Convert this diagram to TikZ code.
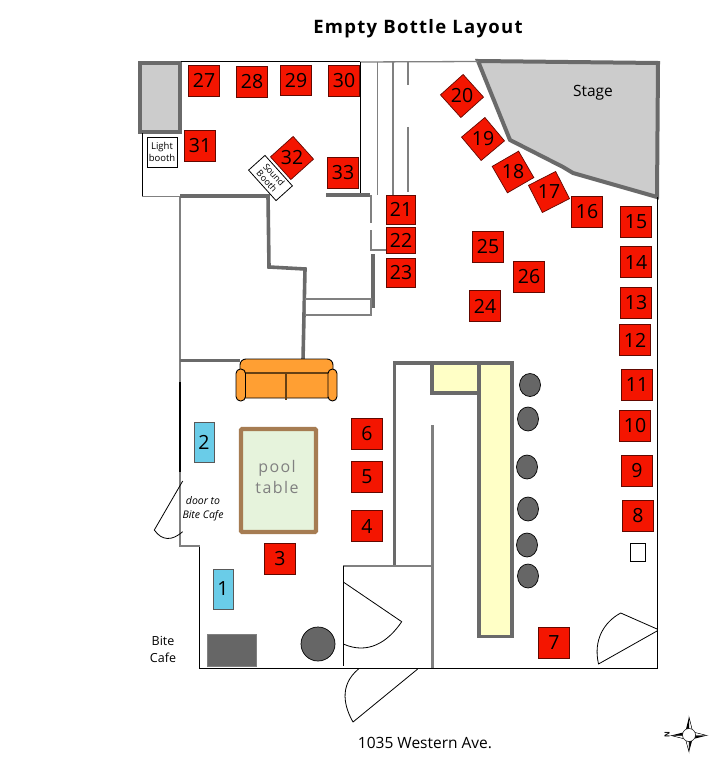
\documentclass[tikz,border=0pt]{standalone}
\usepackage{fontspec}
\setmainfont{Open Sans}
\definecolor{seatred}{HTML}{F41500}
\definecolor{wallgray}{HTML}{6A6A6A}
\definecolor{midgray}{HTML}{808080}
\definecolor{panelgray}{HTML}{CCCCCC}
\definecolor{barfill}{HTML}{FFFFC6}
\definecolor{blueseat}{HTML}{6ACCE8}
\definecolor{sofa}{HTML}{FF9F33}
\definecolor{felt}{HTML}{E6F3DC}
\definecolor{rail}{HTML}{A67C52}
\definecolor{stool}{HTML}{666666}
\tikzset{
  seat/.style={draw=black!60!seatred,line width=0.7pt,fill=seatred,minimum size=30.5pt,inner sep=0pt,text=black,font=\fontsize{19.5}{19.5}\selectfont},
  blueseat/.style={draw=black!65,line width=0.7pt,fill=blueseat,minimum width=20pt,minimum height=40pt,inner sep=0pt,text=black,font=\fontsize{19.5}{19.5}\selectfont},
  thickwall/.style={draw=wallgray,line width=3.6pt},
  medwall/.style={draw=midgray,line width=2.4pt},
  thinwall/.style={draw=midgray,line width=1.3pt},
  outline/.style={draw=black,line width=1pt},
  doorline/.style={draw=black,line width=0.8pt},
  stoolshape/.style={draw=black,line width=0.7pt,fill=stool},
  label/.style={inner sep=0pt,text=black,align=center},
}
\begin{document}
\begin{tikzpicture}[x=1pt,y=-1pt]
\useasboundingbox (0,0) rectangle (712,757);
\fill[white] (0,0) rectangle (712,757);

% stage and top-left panel
\draw[thickwall,line width=4pt,fill=panelgray,line join=miter] (478,61) -- (658,63) -- (657,197) -- (573,173) -- (563,167) -- (510,140) -- cycle;
\draw[draw=wallgray,line width=4.2pt,fill=panelgray] (140,63) rectangle (180,132);

% outer thin walls
\draw[outline] (181,62) -- (360,62);
\draw[outline] (142,133) -- (142,196);
\draw[thinwall] (142,196.5) -- (180,196.5);
\draw[thinwall] (360,62) -- (478,61.5);
\draw[outline] (657.5,197) -- (657.5,668) -- (199.5,668) -- (199.5,546);
\draw[medwall] (199.5,546) -- (180,546) -- (180,472);
\draw[draw=black,line width=1.6pt] (180,382) -- (180,472);
\draw[medwall] (180,382) -- (180,196);

% stairs
\draw[draw=black,line width=0.9pt] (360.5,62) -- (360.5,195);
\draw[thinwall] (377.5,62) -- (377.5,195);
\draw[thinwall] (393,62) -- (393,195);
\draw[thinwall] (408,62) -- (408,85);
\draw[thinwall] (408,127) -- (408,192);

% inner thick walls
\draw[thickwall,line join=miter] (180,196) -- (268,196) -- (269,267) -- (305,269) -- (303,360);
\draw[thickwall] (180,360.5) -- (240,360.5);
\draw[thickwall] (326,195) -- (370,195);
\draw[thinwall] (371,195) -- (371,223);
\draw[thinwall] (371,230) -- (371,250) -- (386,250);
\draw[thickwall] (373,254) -- (373,308);
\draw[thinwall,fill=white] (305.5,299) rectangle (371,315);

% bar
\draw[thickwall,line join=miter] (394.5,566) -- (394.5,362.7) -- (513,362.7);
\draw[thickwall,fill=barfill] (432,363) rectangle (479,393);
\draw[thickwall,fill=barfill] (479,363) rectangle (512,636.5);
\draw[draw=midgray,line width=3pt] (432,425) -- (432,668);
\draw[medwall,line width=1.8pt] (343,566) -- (432,566);
\draw[outline] (343.3,566) -- (343.3,666);

% doors
\draw[doorline,line join=round] (343.3,582) -- (401.7,621.7) .. controls (388,642) and (368,655) .. (343.3,644);
\draw[doorline,line join=round] (417.7,669) -- (353,722) .. controls (345,708) and (338,686) .. (358.5,669);
\draw[doorline,line join=round] (657,629) -- (620.7,613) .. controls (604,622) and (593,640) .. (598.5,664) -- (657,631);
\draw[doorline,line join=round] (182.7,481) -- (154.3,530) .. controls (162,541) and (172,541) .. (182.7,531.7);

% furniture
\draw[draw=black,line width=0.9pt,fill=sofa,rounded corners=6pt] (240,359) rectangle (333,398);
\draw[draw=black!60!sofa,line width=1.2pt] (245,373) -- (329,373);
\draw[draw=black!60!sofa,line width=1.2pt] (286,373) -- (286,400);
\draw[draw=black,line width=0.9pt,fill=sofa,rounded corners=4.5pt] (236,369) rectangle (245.5,401);
\draw[draw=black,line width=0.9pt,fill=sofa,rounded corners=4.5pt] (328,369) rectangle (337,401);
\draw[draw=rail,line width=4.2pt,fill=felt,rounded corners=1pt] (241,429) rectangle (316,532);
\draw[draw=midgray,line width=0.8pt,fill=stool] (207.5,634) rectangle (256,666);
\draw[stoolshape] (318,644) circle[radius=17pt];
\draw[stoolshape] (530,385) ellipse[x radius=10.5pt,y radius=11.5pt];
\draw[stoolshape] (528,419) ellipse[x radius=10.5pt,y radius=12pt];
\draw[stoolshape] (527,467) ellipse[x radius=10.5pt,y radius=12pt];
\draw[stoolshape] (528,509) ellipse[x radius=10.5pt,y radius=12pt];
\draw[stoolshape] (527,545) ellipse[x radius=10.5pt,y radius=12pt];
\draw[stoolshape] (528,576) ellipse[x radius=10.5pt,y radius=12pt];
\node[draw=black,line width=0.8pt,fill=white,minimum width=15.5pt,minimum height=18.5pt,inner sep=0pt] (smallbox) at (638,552.5) {};

% seats
\node[seat] (s3) at (280,559) {3};
\node[seat] (s4) at (367,526) {4};
\node[seat] (s5) at (367,477) {5};
\node[seat] (s6) at (367,434) {6};
\node[seat] (s7) at (554,643) {7};
\node[seat] (s8) at (638,516) {8};
\node[seat] (s9) at (637,471) {9};
\node[seat] (s10) at (635,426) {10};
\node[seat] (s11) at (637,385) {11};
\node[seat] (s12) at (635,340) {12};
\node[seat] (s13) at (636,303) {13};
\node[seat] (s14) at (636,262) {14};
\node[seat] (s15) at (636,222) {15};
\node[seat] (s16) at (587,212) {16};
\node[seat,rotate=27] (s17) at (549,192) {\rotatebox{-27}{17}};
\node[seat,rotate=30] (s18) at (513,172) {\rotatebox{-30}{18}};
\node[seat,rotate=40] (s19) at (483,139) {\rotatebox{-40}{19}};
\node[seat,rotate=42] (s20) at (462,96) {\rotatebox{-42}{20}};
\node[seat,minimum size=29pt] (s21) at (401,209.5) {21};
\node[seat,minimum height=25.5pt,minimum width=29pt] (s22) at (401,240.5) {22};
\node[seat,minimum size=29pt] (s23) at (401,273) {23};
\node[seat] (s24) at (485,306) {24};
\node[seat] (s25) at (488,247) {25};
\node[seat] (s26) at (529,277) {26};
\node[seat] (s27) at (204,80.7) {27};
\node[seat] (s28) at (252,82) {28};
\node[seat] (s29) at (296,80.5) {29};
\node[seat] (s30) at (344,81) {30};
\node[seat] (s31) at (200,146) {31};
\node[seat,rotate=42] (s32) at (292,158) {\rotatebox{-42}{32}};
\node[seat] (s33) at (343,172.6) {33};
\node[blueseat] (b1) at (223,589) {1};
\node[blueseat] (b2) at (204,442) {2};

% booths
\node[draw=black,line width=0.8pt,fill=white,minimum width=30pt,minimum height=30pt,inner sep=0pt,align=center,font=\fontsize{9.5}{11.5}\selectfont] (light) at (162,152) {Light\\booth};
\node[draw=black,line width=0.8pt,fill=white,minimum width=41pt,minimum height=22pt,inner sep=0pt,align=center,rotate=-48,font=\fontsize{9}{9.5}\selectfont] (sound) at (270.5,178) {Sound\\Booth};

% labels
\node[label,font=\bfseries\fontsize{18.5}{18.5}\selectfont] (title) at (418,29) {\addfontfeatures{LetterSpace=7}Empty Bottle Layout};
\node[label,font=\fontsize{15.5}{15.5}\selectfont] (stage) at (593,93) {Stage};
\node[label,font=\fontsize{16}{21}\selectfont,text=black!50] (pool) at (277,476.5) {\addfontfeatures{LetterSpace=9}pool\\\addfontfeatures{LetterSpace=9}table};
\node[label,font=\itshape\fontsize{10.5}{14}\selectfont] (dooring) at (203,509) {door to\\Bite Cafe};
\node[label,font=\fontsize{12.5}{16.5}\selectfont] (bite) at (163,649.5) {Bite\\Cafe};
\node[label,font=\fontsize{15.5}{15.5}\selectfont] (addr) at (425,743) {1035 Western Ave.};

% compass
\coordinate (cc) at (689,735);
\fill[black] (689,717) -- (692,729) -- (686,729) -- cycle;
\draw[black,line width=0.4pt,fill=white] (689,717) -- (692,729) -- (689,729) -- cycle;
\fill[black] (707,735.5) -- (695,738.5) -- (695,732.5) -- cycle;
\draw[black,line width=0.4pt,fill=white] (707,735.5) -- (695,732.5) -- (695,735.5) -- cycle;
\fill[black] (689,752) -- (686,741) -- (692,741) -- cycle;
\draw[black,line width=0.4pt,fill=white] (689,752) -- (686,741) -- (689,741) -- cycle;
\fill[black] (671,735.5) -- (683,732.5) -- (683,738.5) -- cycle;
\draw[black,line width=0.4pt,fill=white] (671,735.5) -- (683,738.5) -- (683,735.5) -- cycle;
\draw[black,line width=0.5pt,fill=white] (cc) circle[radius=6.5pt];
\node[label,rotate=90,font=\bfseries\fontsize{7}{7}\selectfont] (north) at (667,735) {N};
\end{tikzpicture}
\end{document}
